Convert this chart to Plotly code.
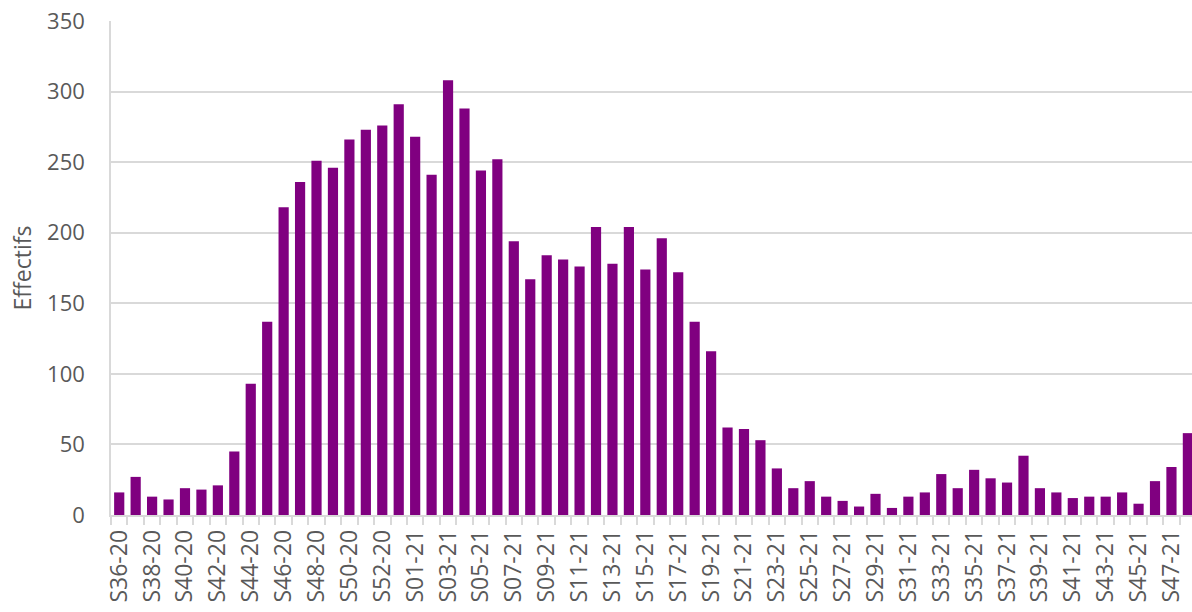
import plotly.graph_objects as go

weeks_2020 = [f"S{w:02d}-20" for w in range(36, 54)]
weeks_2021 = [f"S{w:02d}-21" for w in range(1, 49)]
categories = weeks_2020 + weeks_2021

values = [16, 27, 13, 11, 19, 18, 21, 45, 93, 137, 218, 236, 251, 246, 266, 273, 276, 291,
          268, 241, 308, 288, 244, 252, 194, 167, 184, 181, 176, 204, 178, 204, 174, 196, 172,
          137, 116, 62, 61, 53, 33, 19, 24, 13, 10, 6, 15, 5, 13, 16, 29, 19, 32, 26, 23, 42,
          19, 16, 12, 13, 13, 16, 8, 24, 34, 58]

tick_text = [c if i % 2 == 0 else "" for i, c in enumerate(categories)]

grey = "#595959"
fig = go.Figure(go.Bar(x=categories, y=values, marker_color="#800080",
                       marker_line_width=0))
fig.update_layout(
    width=1192, height=612,
    margin=dict(l=111, r=0, t=21, b=97, autoexpand=False),
    plot_bgcolor="white", paper_bgcolor="white",
    bargap=0.38,
    showlegend=False,
    font=dict(family="Open Sans", color=grey),
)
fig.update_xaxes(
    type="category", automargin=False,
    tickmode="array", tickvals=categories, ticktext=tick_text,
    tickangle=-90, tickfont=dict(size=23, color=grey),
    tickson="boundaries", ticks="outside", ticklen=8, tickcolor="#d9d9d9", tickwidth=1.5,
    showline=True, linecolor="#d9d9d9", linewidth=1.5,
    showgrid=False, range=[-0.5, len(categories) - 0.75],
    ticklabelstandoff=4,
)
fig.update_yaxes(
    range=[0, 350], dtick=50, automargin=False,
    tickfont=dict(size=22, color=grey),
    showgrid=True, gridcolor="#d9d9d9", gridwidth=1.5,
    showline=True, linecolor="#d9d9d9", linewidth=1.5,
    zeroline=False, ticks="", ticklabelstandoff=20, ticklabeloverflow="allow",
    title=dict(text="Effectifs", font=dict(size=23, color=grey), standoff=9),
)
fig.write_html("out.html", config={"displayModeBar": False},
               post_script="document.body.style.margin='0';")
